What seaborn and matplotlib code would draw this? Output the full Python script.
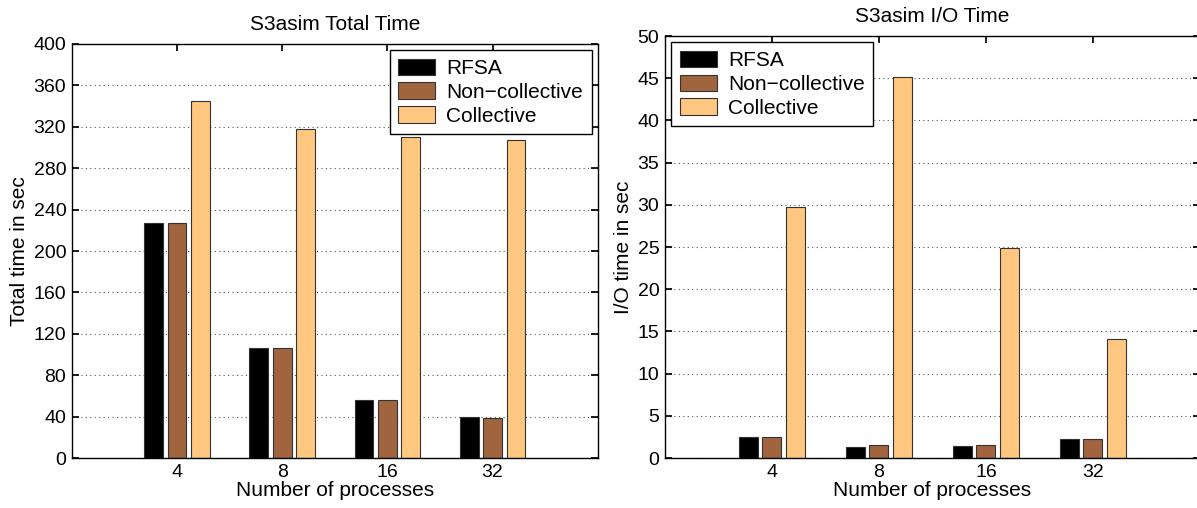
import matplotlib

matplotlib.use("Agg")
import pandas as pd
import matplotlib.pyplot as plt
import seaborn as sns

# %% data
processes = ["4", "8", "16", "32"]
methods = ["RFSA", "Non\u2212collective", "Collective"]

total_rfsa = [227, 106, 56, 39.5]
total_noncoll = [227, 106, 56.5, 39]
total_coll = [345, 318, 310, 307]

io_rfsa = [2.5, 1.25, 1.4, 2.25]
io_noncoll = [2.5, 1.5, 1.55, 2.2]
io_coll = [29.8, 45.1, 24.9, 14.1]

total_ticks = list(range(0, 401, 40))
io_ticks = list(range(0, 51, 5))

# copper colormap samples, as in the original
colors = ["#000000", "#A0643F", "#FFC77F"]


def long_form(rfsa, noncoll, coll):
    rows = []
    for name, vals in zip(methods, [rfsa, noncoll, coll]):
        for p, v in zip(processes, vals):
            rows.append({"Processes": p, "Method": name, "Time": v})
    return pd.DataFrame(rows)


df_total = long_form(total_rfsa, total_noncoll, total_coll)
df_io = long_form(io_rfsa, io_noncoll, io_coll)

sns.set_theme(style="white")
plt.rcParams["font.family"] = ["Liberation Sans", "DejaVu Sans"]
plt.rcParams["axes.edgecolor"] = "black"
plt.rcParams["axes.linewidth"] = 1.0
plt.rcParams["text.color"] = "black"
plt.rcParams["axes.labelcolor"] = "black"

FS = 15

fig = plt.figure(figsize=(11.97, 5.08), dpi=100)
ax1 = fig.add_axes([0.060, 0.0984, 0.4394, 0.815])
ax2 = fig.add_axes([0.5555, 0.0984, 0.447, 0.8307])

panels = [
    (ax1, df_total, total_ticks, "S3asim Total Time", "Total time in sec", "upper right"),
    (ax2, df_io, io_ticks, "S3asim I/O Time", "I/O time in sec", "upper left"),
]

for ax, df, yticks, title, ylabel, loc in panels:
    sns.barplot(
        data=df,
        x="Processes",
        y="Time",
        hue="Method",
        order=processes,
        hue_order=methods,
        palette=colors,
        width=0.667,
        gap=0.2,
        edgecolor="#333333",
        linewidth=0.8,
        saturation=1,
        errorbar=None,
        ax=ax,
    )
    ax.set_xlim(-1, 4)
    ax.set_ylim(yticks[0], yticks[-1])
    ax.set_yticks(yticks)
    ax.yaxis.grid(True, linestyle=(0, (1, 3)), color="#555555", linewidth=0.8)
    ax.set_axisbelow(True)
    for s in ax.spines.values():
        s.set_visible(True)
        s.set_color("black")
    ax.tick_params(
        axis="both",
        direction="in",
        length=5,
        top=True,
        right=True,
        bottom=True,
        left=True,
        labelsize=14,
        colors="black",
        pad=4,
    )
    ax.set_title(title, fontsize=FS, pad=10, color="black")
    ax.set_xlabel("Number of processes", fontsize=FS, labelpad=0)
    ax.set_ylabel(ylabel, fontsize=FS, labelpad=3)

    handles, labels = ax.get_legend_handles_labels()
    leg = ax.legend(
        handles,
        labels,
        loc=loc,
        fontsize=FS,
        frameon=True,
        fancybox=False,
        framealpha=1,
        edgecolor="black",
        handlelength=1.78,
        handleheight=0.82,
        labelspacing=0.22,
        borderpad=0.4,
        handletextpad=0.55,
        borderaxespad=0.3,
        title=None,
    )
    leg.get_frame().set_linewidth(1.0)

fig.savefig("out.png", dpi=100)
